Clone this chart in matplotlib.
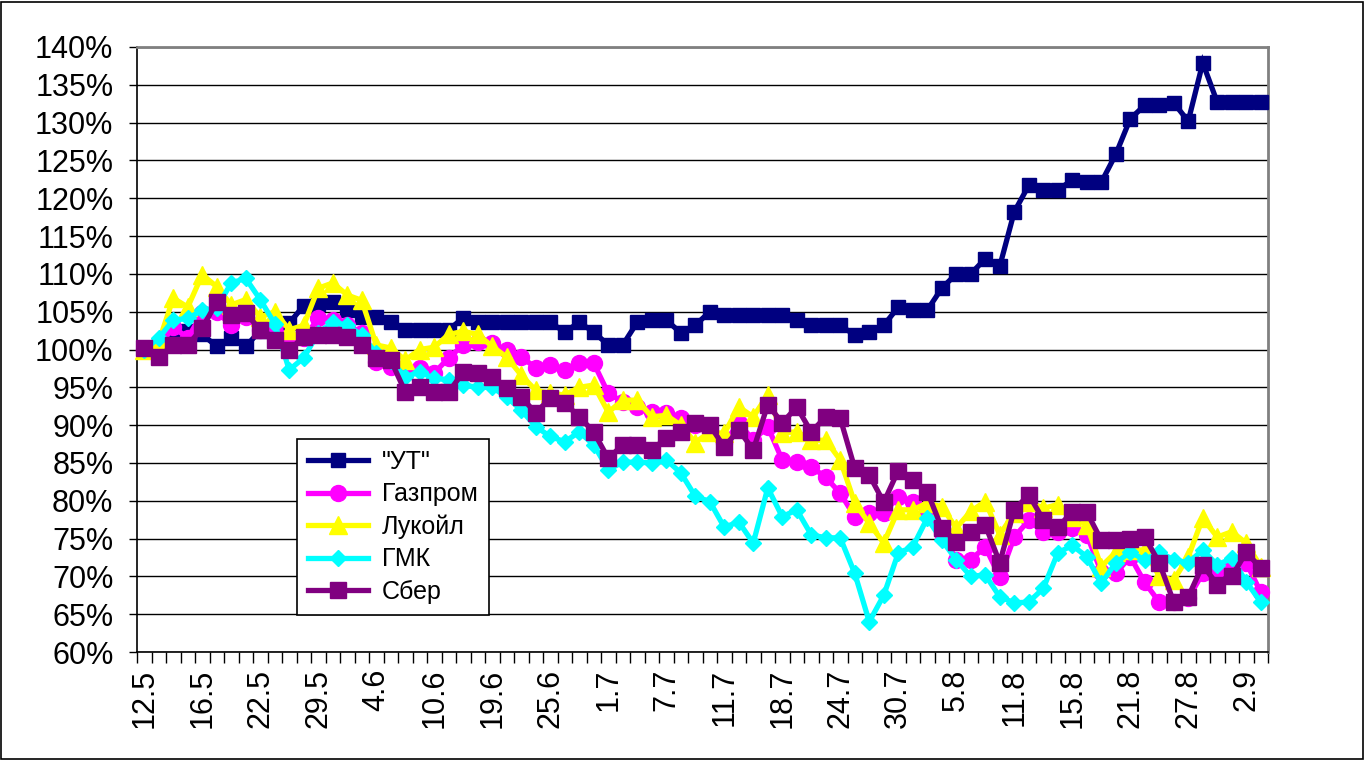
import matplotlib
matplotlib.use("Agg")
import matplotlib.pyplot as plt
from matplotlib.ticker import FuncFormatter
import matplotlib.patches as mpatches

# ---- data (values in %) ----
tick_labels = ["12.5", "16.5", "22.5", "29.5", "4.6", "10.6", "19.6", "25.6", "1.7", "7.7",
               "11.7", "18.7", "24.7", "30.7", "5.8", "11.8", "15.8", "21.8", "27.8", "2.9"]
label_step = 4

ut = [100, 100.5, 102, 102.5, 102, 100.4, 101.5, 100.4, 102.5, 102.2,
      103.5, 105.8, 106, 106.3, 105.2, 104.3, 104.3, 103.6, 102.6, 102.6,
      102.6, 102.6, 104.2, 103.6, 103.6, 103.6, 103.6, 103.6, 103.6, 102.3,
      103.6, 102.3, 100.6, 100.6, 103.6, 103.9, 103.9, 102.2, 103.2, 105.0,
      104.6, 104.6, 104.6, 104.6, 104.6, 103.9, 103.2, 103.2, 103.2, 101.9,
      102.3, 103.2, 105.6, 105.2, 105.2, 108.1, 110.0, 110.0, 112.0, 111.0,
      118.2, 121.7, 121.1, 121.1, 122.4, 122.1, 122.1, 125.8, 130.5, 132.3,
      132.3, 132.6, 130.2, 137.9, 132.7, 132.7, 132.7, 132.7]

gazprom = [100, 100.3, 103, 101.5, 104.8, 105, 103.2, 104.3, 102.6, 103.2,
           101.5, 101.5, 104.1, 103.9, 103.2, 102.2, 98.4, 97.7, 97.2, 97.5,
           96.9, 98.9, 100.6, 101, 100.8, 99.9, 99, 97.6, 97.9, 97.3,
           98.2, 98.2, 94.2, 93.1, 92.4, 91.7, 91.6, 90.9, 90, 89.1,
           87.6, 90.3, 88, 89.8, 85.4, 85.1, 84.5, 83.1, 81, 77.9,
           78.4, 78.4, 80.5, 79.9, 78.4, 75.7, 72.2, 72.2, 73.9, 69.9,
           75.2, 77.4, 75.9, 75.9, 76.4, 75.5, 70.6, 70.4, 72.6, 69.2,
           66.6, 66.6, 67.1, 70.4, 70.8, 71.2, 71.8, 67.9]

lukoil = [100, 101, 106.8, 105.6, 109.9, 108.3, 105.9, 106.6, 104.3, 105,
          102.6, 103.2, 108.1, 108.8, 107.2, 106.5, 100.6, 100.2, 98.6, 100,
          100.3, 102, 102.4, 102, 100.4, 99, 96.6, 94.6, 94.2, 94,
          95, 95.3, 91.7, 93.3, 93.3, 91.1, 91.3, 90, 87.7, 89.1,
          88.9, 92.4, 91.1, 94, 89, 89.1, 88, 88, 85.4, 79.7,
          77, 74.4, 78.8, 78.8, 79.7, 79.2, 76.4, 78.6, 79.9, 75.5,
          78.4, 79.9, 79, 79.5, 77.9, 76.8, 71.3, 73.2, 73.5, 73.5,
          70, 69.5, 72.6, 77.7, 75.2, 75.9, 74.4, 71.3]

gmk = [100, 101.5, 103.9, 104.1, 105.2, 105.5, 108.8, 109.4, 106.6, 103.4,
       97.3, 98.9, 102.2, 103.6, 103.2, 101.9, 99.5, 98.5, 96.4, 97,
       96.2, 96, 95.3, 95, 95, 93.7, 92, 89.8, 88.5, 87.8,
       89.1, 87.4, 84.1, 85.1, 85.1, 85, 85.4, 83.7, 80.6, 79.9,
       76.5, 77.2, 74.4, 81.7, 77.9, 78.8, 75.5, 75.1, 75.1, 70.4,
       64, 67.5, 73.1, 73.9, 77.7, 74.8, 72.2, 70, 70.2, 67.3,
       66.5, 66.6, 68.4, 73.1, 74.1, 72.6, 69.1, 71.8, 73.2, 72.2,
       73.2, 72.2, 71.8, 73.5, 71.5, 72.4, 69.3, 66.6]

sber = [100.2, 99, 100.6, 100.6, 102.8, 106.3, 104.6, 104.8, 102.6, 101.3,
        99.9, 101.7, 101.9, 101.9, 101.7, 100.6, 98.9, 98.6, 94.4, 95,
        94.4, 94.4, 97, 96.9, 96.4, 94.9, 93.7, 91.6, 93.6, 92.9,
        91.1, 89.1, 85.6, 87.4, 87.4, 86.7, 88.3, 89.1, 90.3, 90,
        87.1, 89.4, 86.7, 92.7, 90.3, 92.4, 89.1, 91.1, 90.9, 84.3,
        83.4, 79.8, 84, 82.7, 81.2, 76.4, 74.6, 75.9, 76.8, 71.8,
        78.8, 80.8, 77.5, 76.5, 78.5, 78.5, 74.8, 74.8, 75, 75.2,
        71.8, 66.6, 67.3, 71.5, 68.9, 70, 73.2, 71.1]

series_names = ['"УТ"', "Газпром", "Лукойл", "ГМК", "Сбер"]

# ---- figure ----
W, H, DPI = 1365, 760, 100
fig = plt.figure(figsize=(W / DPI, H / DPI), dpi=DPI)
plt.rcParams['font.family'] = ['Liberation Sans', 'DejaVu Sans']

ax = fig.add_axes([137 / W, 1 - 652 / H, (1268 - 137) / W, (652 - 47) / H])

styles = [
    dict(color="#000080", marker="s", ms=10.5),
    dict(color="#FF00FF", marker="o", ms=11.5),
    dict(color="#FFFF00", marker="^", ms=12.5),
    dict(color="#00FFFF", marker="D", ms=8.5),
    dict(color="#800080", marker="s", ms=11),
]
data = [ut, gazprom, lukoil, gmk, sber]
x = list(range(len(ut)))
for vals, name, st in zip(data, series_names, styles):
    ax.plot(x, vals, color=st["color"], lw=3.8, marker=st["marker"],
            ms=st["ms"], mfc=st["color"], mec=st["color"], label=name,
            solid_joinstyle="miter", clip_on=False, zorder=3)

n = len(ut)
ax.set_xlim(-0.5, n - 0.5)
ax.set_ylim(60, 140)
ax.set_yticks([60 + 5 * k for k in range(17)])
ax.yaxis.set_major_formatter(FuncFormatter(lambda v, p: f"{v:.0f}%"))
ax.grid(axis="y", color="black", lw=1.0)
ax.set_axisbelow(True)

# x ticks: marks at category boundaries, labels every 4th category
ax.set_xticks([i - 0.5 for i in range(n + 1)])
ax.set_xticklabels([])
ax.set_xticks([label_step * k for k in range(len(tick_labels))], minor=True)
ax.set_xticklabels(tick_labels, minor=True, rotation=90, fontsize=22)
ax.tick_params(axis="x", which="major", length=8, width=1, color="black", direction="out")
ax.tick_params(axis="x", which="minor", length=0, pad=12)
ax.tick_params(axis="y", which="major", length=6, width=1, labelsize=22, pad=11)

for side in ["left", "bottom"]:
    ax.spines[side].set_color("black")
    ax.spines[side].set_linewidth(1.2)
for side in ["top", "right"]:
    ax.spines[side].set_color("#808080")
    ax.spines[side].set_linewidth(2)

leg = ax.legend(loc="lower left", bbox_to_anchor=((297 - 137) / 1131, (652 - 615) / 605),
                fontsize=18, frameon=True, fancybox=False, framealpha=1,
                edgecolor="black", handlelength=2.4, labelspacing=0.33,
                borderpad=0.45, handletextpad=0.55, borderaxespad=0)
leg.get_frame().set_linewidth(1.2)

# outer chart border
fig.patches.append(mpatches.Rectangle((1 / W, 1 / H), 1 - 3 / W, 1 - 3 / H,
                                      transform=fig.transFigure, fill=False,
                                      edgecolor="black", lw=1.2))

fig.savefig("out.png", dpi=DPI)
